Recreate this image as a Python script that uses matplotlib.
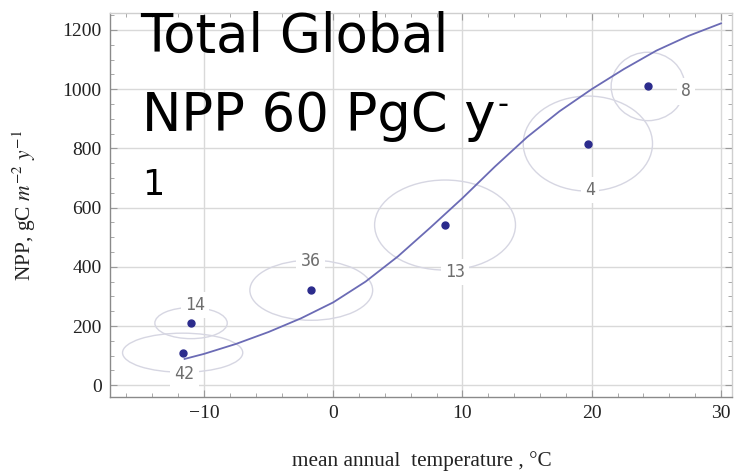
import matplotlib
matplotlib.use("Agg")
import matplotlib.pyplot as plt
from matplotlib.patches import Ellipse
from matplotlib.ticker import MultipleLocator

# ---- data ----
pt_temp = [-11.65, -11.0, -1.7, 8.65, 19.7, 24.35]
pt_npp = [110, 210, 321, 541, 816, 1009]
ell_w = [9.3, 5.6, 9.5, 10.9, 10.0, 5.7]      # temperature spread (full width)
ell_h = [132, 105, 203, 304, 321, 231]        # NPP spread (full height)
ell_labels = ["42", "14", "36", "13", "4", "8"]
lab_x = [-11.5, -10.7, -1.75, 9.4, 19.85, 27.3]
lab_y = [38, 270, 421, 382, 659, 992]

curve_t = [-11.5, -10, -7.5, -5, -2.5, 0, 2.5, 5, 7.5, 10, 12.5, 15, 17.5, 20, 22.5, 25, 27.5, 30]
curve_npp = [89, 106, 140, 180, 226, 280, 350, 435, 532, 632, 738, 838, 925, 1000, 1068, 1130, 1180, 1222]

xticks = [-10, 0, 10, 20, 30]
xticklabels = ["\u221210", "0", "10", "20", "30"]
yticks = [0, 200, 400, 600, 800, 1000, 1200]

W, H = 735, 474
plt.rcParams["mathtext.fontset"] = "stix"
fig = plt.figure(figsize=(W / 100, H / 100), dpi=100)
ax = fig.add_axes([110 / W, 1 - 396.7 / H, (732 - 110) / W, (396.7 - 13) / H])
ax.set_xlim(-17.27, 30.85)
ax.set_ylim(-38.5, 1257)

grid_c = "#d9d9d9"
for x in xticks:
    ax.axvline(x, color=grid_c, lw=1.0, zorder=0)
for y in yticks:
    ax.axhline(y, color=grid_c, lw=1.0, zorder=0)

ell_c = "#d6d6e2"
for cx, cy, w, h in zip(pt_temp, pt_npp, ell_w, ell_h):
    ax.add_patch(Ellipse((cx, cy), w, h, fill=False, ec=ell_c, lw=1.0, zorder=1))

ax.plot(curve_t, curve_npp, color="#6b6bb5", lw=1.3, zorder=3)
ax.plot(pt_temp, pt_npp, "o", color="#2b2b8c", ms=5, zorder=4)

for s, x, y in zip(ell_labels, lab_x, lab_y):
    ax.text(x, y, s, ha="center", va="center", fontsize=12, family="DejaVu Sans Mono",
            color="#6e6e6e", zorder=2,
            bbox=dict(boxstyle="square,pad=0.25", fc="white", ec="none"))

ax.set_xticks(xticks)
ax.set_xticklabels(xticklabels)
ax.set_yticks(yticks)
ax.xaxis.set_minor_locator(MultipleLocator(2))
ax.yaxis.set_minor_locator(MultipleLocator(50))
ax.tick_params(which="both", direction="in", top=True, right=True, color="#9a9a9a")
ax.tick_params(which="major", length=5, width=0.8, labelsize=14, pad=6)
ax.tick_params(which="minor", length=3, width=0.6)
for lab in ax.get_xticklabels() + ax.get_yticklabels():
    lab.set_family("Liberation Serif")
    lab.set_color("#222222")
for sp in ["top", "right"]:
    ax.spines[sp].set_color("#cfcfcf")
for sp in ["bottom", "left"]:
    ax.spines[sp].set_color("#8a8a8a")
for sp in ax.spines.values():
    sp.set_linewidth(1.0)

fig.text(422 / W, 1 - 461 / H, "mean annual  temperature , \u00b0C", ha="center", va="center",
         fontsize=15.3, family="Liberation Serif", color="#222222")
fig.text(24 / W, 1 - 205 / H, "NPP, gC $m^{-2}$ $y^{-1}$", ha="center", va="center",
         rotation=90, fontsize=15.5, family="Liberation Serif", color="#222222")

# overlay annotation text
fig.text(140 / W, 1 - 52 / H, "Total Global", ha="left", va="baseline",
         fontsize=38, family="DejaVu Sans", color="black")
fig.text(142 / W, 1 - 131 / H, "NPP 60 PgC y", ha="left", va="baseline",
         fontsize=38, family="DejaVu Sans", color="black")
fig.text(497 / W, 1 - 113 / H, "-", ha="left", va="baseline",
         fontsize=22, family="DejaVu Sans", color="black")
fig.text(142 / W, 1 - 195 / H, "1", ha="left", va="baseline",
         fontsize=25, family="DejaVu Sans", color="black")

fig.savefig("out.png", dpi=100)
